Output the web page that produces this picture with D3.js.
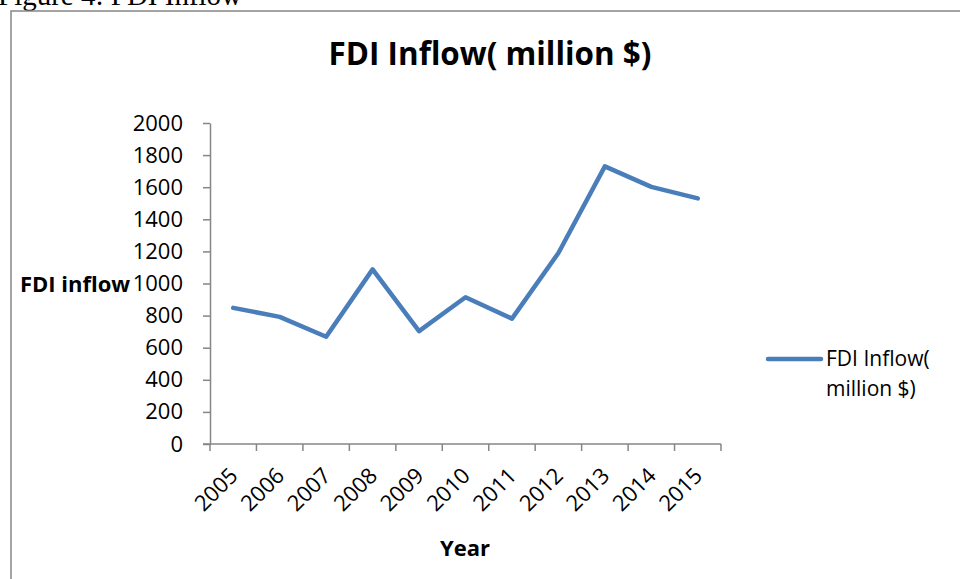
<!DOCTYPE html>
<html>
<head>
<meta charset="utf-8">
<script src="https://cdn.jsdelivr.net/npm/d3@7"></script>
<style>
  body { margin: 0; background: #fff; }
  svg { display: block; font-family: "Open Sans", sans-serif; }
</style>
</head>
<body>
<div id="chart"></div>
<script>
// data
const years = ["2005", "2006", "2007", "2008", "2009", "2010", "2011", "2012", "2013", "2014", "2015"];
const fdiInflow = [848, 792, 668, 1088, 703, 914, 781, 1190, 1730, 1602, 1530];
const yTicks = [0, 200, 400, 600, 800, 1000, 1200, 1400, 1600, 1800, 2000];
const seriesName = ["FDI Inflow(", "million $)"];

const W = 960, H = 579;
const lineColor = "#4a7ebb";
const axisColor = "#868686";

const svg = d3.select("#chart").append("svg")
  .attr("width", W)
  .attr("height", H);

// caption above the chart box (cut off at top)
svg.append("text")
  .attr("x", -2)
  .attr("y", 5)
  .style("font-family", "'Liberation Serif', serif")
  .style("font-size", "29px")
  .text("Figure 4: FDI Inflow");

// chart border
svg.append("rect")
  .attr("x", 11)
  .attr("y", 11)
  .attr("width", W + 20)
  .attr("height", H + 20)
  .attr("fill", "none")
  .attr("stroke", axisColor)
  .attr("stroke-width", 1.5);

// title
svg.append("text")
  .attr("x", 490)
  .attr("y", 65)
  .attr("text-anchor", "middle")
  .style("font-weight", "bold")
  .style("font-size", "31.4px")
  .text("FDI Inflow( million $)");

const x = d3.scaleBand()
  .domain(years)
  .range([210, 721])
  .padding(0);

const y = d3.scaleLinear()
  .domain([0, 2000])
  .range([444, 123]);

// y axis
const yAxis = svg.append("g")
  .attr("transform", "translate(210,0)")
  .call(d3.axisLeft(y).tickValues(yTicks).tickFormat(d3.format("d")).tickSize(7).tickSizeOuter(0));
yAxis.select(".domain").attr("stroke", axisColor).attr("stroke-width", 1.5);
yAxis.selectAll(".tick line").attr("stroke", axisColor).attr("stroke-width", 1.5);
yAxis.selectAll(".tick text")
  .style("font-family", "'Open Sans', sans-serif")
  .style("font-size", "22px")
  .attr("fill", "#000")
  .attr("x", -27);

// x axis line
svg.append("line")
  .attr("x1", 203).attr("x2", x.range()[1])
  .attr("y1", y(0)).attr("y2", y(0))
  .attr("stroke", axisColor)
  .attr("stroke-width", 1.5);

// category boundary ticks
const bounds = years.map(d => x(d)).concat([x(years[years.length - 1]) + x.bandwidth()]);
svg.selectAll("line.xtick").data(bounds).enter()
  .append("line")
  .attr("class", "xtick")
  .attr("x1", d => d).attr("x2", d => d)
  .attr("y1", y(0)).attr("y2", y(0) + 7)
  .attr("stroke", axisColor)
  .attr("stroke-width", 1.5);

// rotated year labels
svg.selectAll("text.xlab").data(years).enter()
  .append("text")
  .attr("class", "xlab")
  .attr("text-anchor", "end")
  .attr("transform", d => `translate(${x(d) + x.bandwidth() / 2 + 6},${y(0) + 33}) rotate(-45)`)
  .style("font-size", "22px")
  .text(d => d);

// axis titles
svg.append("text")
  .attr("x", 20)
  .attr("y", 292)
  .style("font-weight", "bold")
  .style("font-size", "22px")
  .text("FDI inflow");

svg.append("text")
  .attr("x", 465)
  .attr("y", 556)
  .attr("text-anchor", "middle")
  .style("font-weight", "bold")
  .style("font-size", "22px")
  .text("Year");

// series line
const line = d3.line()
  .x((d, i) => x(years[i]) + x.bandwidth() / 2)
  .y(d => y(d));

svg.append("path")
  .datum(fdiInflow)
  .attr("d", line)
  .attr("fill", "none")
  .attr("stroke", lineColor)
  .attr("stroke-width", 4.5)
  .attr("stroke-linejoin", "round")
  .attr("stroke-linecap", "round");

// legend
const legend = svg.append("g").attr("transform", "translate(768,359)");
legend.append("line")
  .attr("x1", 0).attr("x2", 53)
  .attr("y1", 0).attr("y2", 0)
  .attr("stroke", lineColor)
  .attr("stroke-width", 4.5)
  .attr("stroke-linecap", "round");
legend.selectAll("text").data(seriesName).enter()
  .append("text")
  .attr("x", 58)
  .attr("y", (d, i) => 7 + i * 30)
  .style("font-size", "21px")
  .text(d => d);
</script>
</body>
</html>
